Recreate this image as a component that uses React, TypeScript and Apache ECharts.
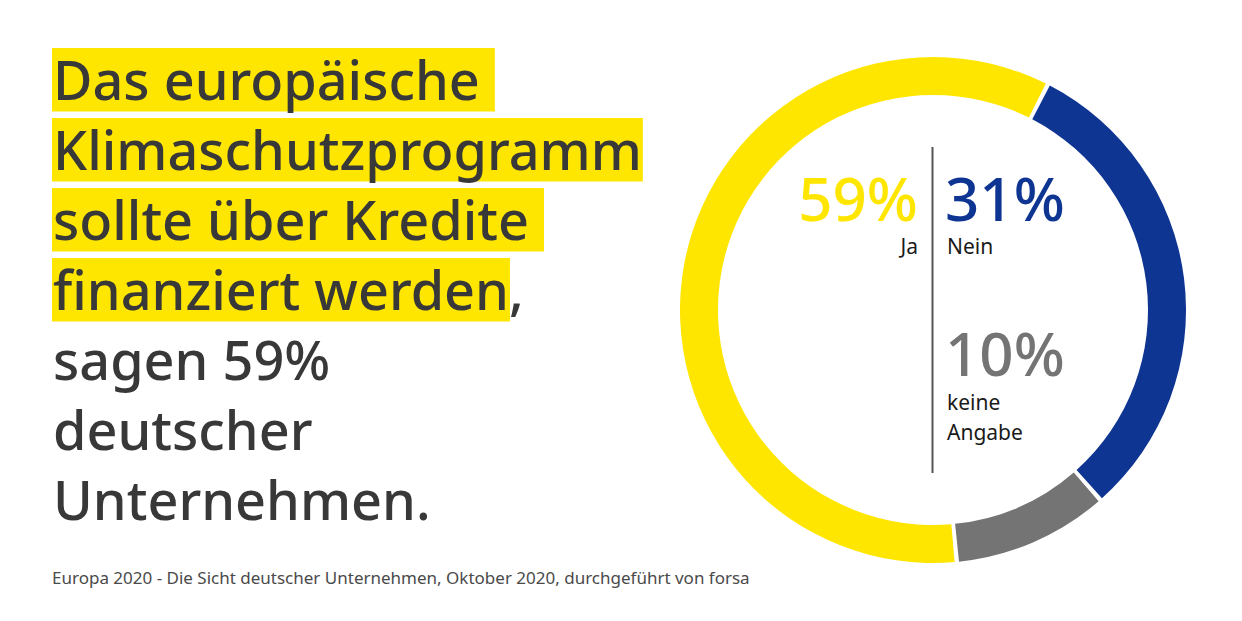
import React, { useEffect, useRef } from 'react';
import * as echarts from 'echarts';

const categories = ['Ja', 'Nein', 'keine Angabe'];
const values = [59, 31, 10];
const sliceColors = ['#FFE600', '#0F3593', '#747474'];
const labelColors = ['#FFE600', '#0F3593', '#747474'];
const drawOrder = [1, 2, 0];
const headlineHighlighted = ['Das europäische ', 'Klimaschutzprogramm', 'sollte über Kredite ', 'finanziert werden'];
const headlineTail = ['', '', '', ','];
const headlinePlain = ['sagen 59%', 'deutscher', 'Unternehmen.'];
const sourceText = 'Europa 2020 - Die Sicht deutscher Unternehmen, Oktober 2020, durchgeführt von forsa';

const FONT = '"Noto Sans", "DejaVu Sans", sans-serif';
const TEXT_DARK = '#383838';
const HL = '#FFE600';

function measure(text: string, size: number): number {
  const c = document.createElement('canvas').getContext('2d');
  if (!c) return text.length * size * 0.55;
  c.font = `500 ${size}px "Noto Sans"`;
  return c.measureText(text).width;
}

export default function App() {
  const ref = useRef<HTMLDivElement>(null);
  useEffect(() => {
    document.body.style.margin = '0';
    if (!ref.current) return;
    const chart = echarts.init(ref.current, undefined, { renderer: 'svg' });

    const titleSize = 54;
    const lineGap = 70;
    const firstBaseline = 100;
    const textX = 52;
    const graphics: any[] = [];

    headlineHighlighted.forEach((t, i) => {
      const base = firstBaseline + i * lineGap;
      const w = measure(t, titleSize);
      graphics.push({
        type: 'rect',
        shape: { x: textX, y: base - 52, width: w + 2, height: 63.5 },
        style: { fill: HL },
        silent: true,
      });
      graphics.push({
        type: 'text',
        x: textX + 1,
        y: base - 21,
        style: {
          text: t + headlineTail[i],
          font: `500 ${titleSize}px ${FONT}`,
          fill: TEXT_DARK,
          verticalAlign: 'middle',
          align: 'left',
        },
        silent: true,
      });
    });
    headlinePlain.forEach((t, j) => {
      const base = firstBaseline + (headlineHighlighted.length + j) * lineGap;
      graphics.push({
        type: 'text',
        x: textX + 1,
        y: base - 21,
        style: {
          text: t,
          font: `500 ${titleSize}px ${FONT}`,
          fill: TEXT_DARK,
          verticalAlign: 'middle',
          align: 'left',
        },
        silent: true,
      });
    });

    graphics.push({
      type: 'text',
      x: 52,
      y: 577,
      style: {
        text: sourceText,
        font: `17px ${FONT}`,
        fill: '#4A4A4A',
        verticalAlign: 'middle',
        align: 'left',
      },
      silent: true,
    });

    // divider
    graphics.push({
      type: 'line',
      shape: { x1: 932.5, y1: 147, x2: 932.5, y2: 473 },
      style: { stroke: '#555555', lineWidth: 2 },
      silent: true,
    });

    // center labels
    const bigSize = 60;
    const smallSize = 21;
    const pct = (i: number) => `${values[i]}%`;
    graphics.push(
      {
        type: 'text', x: 918, y: 220 - 22,
        style: { text: pct(0), font: `500 ${bigSize}px ${FONT}`, lineHeight: 44, fill: labelColors[0], align: 'right', verticalAlign: 'middle' },
        silent: true,
      },
      {
        type: 'text', x: 918, y: 246,
        style: { text: categories[0], font: `${smallSize}px ${FONT}`, lineHeight: 18, fill: '#1A1A1A', align: 'right', verticalAlign: 'middle' },
        silent: true,
      },
      {
        type: 'text', x: 945, y: 220 - 22,
        style: { text: pct(1), font: `500 ${bigSize}px ${FONT}`, lineHeight: 44, fill: labelColors[1], align: 'left', verticalAlign: 'middle' },
        silent: true,
      },
      {
        type: 'text', x: 947, y: 246,
        style: { text: categories[1], font: `${smallSize}px ${FONT}`, lineHeight: 18, fill: '#1A1A1A', align: 'left', verticalAlign: 'middle' },
        silent: true,
      },
      {
        type: 'text', x: 945, y: 375 - 22,
        style: { text: pct(2), font: `500 ${bigSize}px ${FONT}`, lineHeight: 44, fill: labelColors[2], align: 'left', verticalAlign: 'middle' },
        silent: true,
      },
      {
        type: 'text', x: 947, y: 387,
        style: { text: categories[2].replace(' ', '\n'), font: `${smallSize}px ${FONT}`, lineHeight: 30, fill: '#1A1A1A', align: 'left', verticalAlign: 'top' },
        silent: true,
      }
    );

    chart.setOption({
      animation: false,
      backgroundColor: '#FFFFFF',
      series: [
        {
          type: 'pie',
          center: [933, 310],
          radius: [215, 253],
          startAngle: 63,
          clockwise: true,
          padAngle: 1,
          silent: true,
          label: { show: false },
          labelLine: { show: false },
          data: drawOrder.map((i) => ({
            name: categories[i],
            value: values[i],
            itemStyle: { color: sliceColors[i] },
          })),
        },
      ],
      graphic: graphics,
    });
    return () => chart.dispose();
  }, []);
  return <div ref={ref} style={{ position: 'absolute', left: 0, top: 0, width: 1242, height: 621 }} />;
}
